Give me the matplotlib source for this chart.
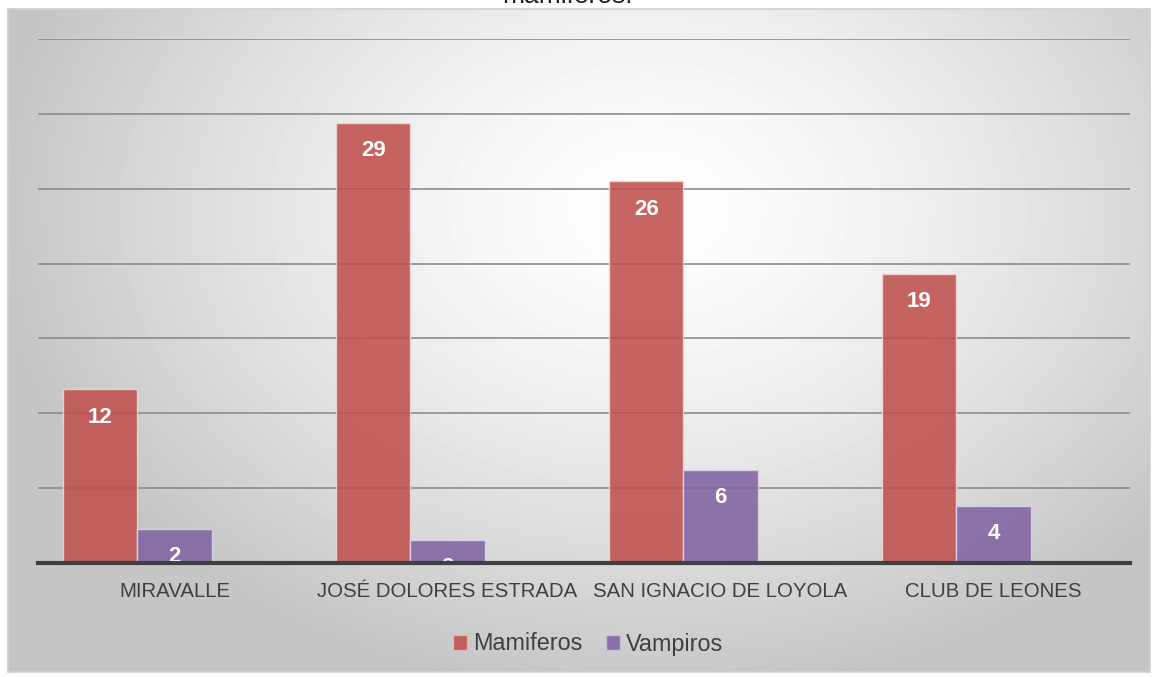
import numpy as np
import matplotlib
matplotlib.use("Agg")
from matplotlib import pyplot as plt
from matplotlib.patches import Patch

# data (bar heights, labels are rounded values)
categories = ["MIRAVALLE", "JOSÉ DOLORES ESTRADA", "SAN IGNACIO DE LOYOLA", "CLUB DE LEONES"]
mamiferos = [11.6, 29.4, 25.5, 19.3]
vampiros = [2.3, 1.55, 6.2, 3.8]
series_names = ["Mamiferos", "Vampiros"]
title_text = "mamiferos."

W, H = 1153, 677
fig = plt.figure(figsize=(W / 100, H / 100), dpi=100)
plt.rcParams['font.family'] = ['Liberation Sans', 'DejaVu Sans']

# chart area background: radial grey-to-white gradient
bg = fig.add_axes([8 / W, 5 / H, 1142 / W, 663 / H], zorder=0)
yy, xx = np.mgrid[0:663, 0:1142]
dist = np.sqrt(((xx - 640) / 760.0) ** 2 + ((yy - 200) / 560.0) ** 2)
shade = np.clip(1.0 - 0.28 * dist ** 1.4, 0.77, 1.0)
bg.imshow(shade, cmap='gray', vmin=0, vmax=1, aspect='auto', interpolation='bilinear')
bg.set_xticks([])
bg.set_yticks([])
for s in bg.spines.values():
    s.set_color('#d0d0d0')
    s.set_linewidth(1.2)

# plot area
ax = fig.add_axes([38 / W, 114 / H, 1092 / W, 524 / H], zorder=1)
ax.patch.set_alpha(0)
x = np.arange(len(categories))
bw = 0.272

# the bars sit half a bar width left of the category centre in the original
b1 = ax.bar(x - bw, mamiferos, bw, color='#c0504d', alpha=0.88,
            edgecolor='#f0d8d8', linewidth=1, zorder=3)
b2 = ax.bar(x, vampiros, bw, color='#8064a2', alpha=0.88,
            edgecolor='#ddd4ea', linewidth=1, zorder=3)

# data labels, inside end of each bar (clipped by the plot area)
for bars, vals in [(b1, mamiferos), (b2, vampiros)]:
    for rect, v in zip(bars, vals):
        ax.annotate(f"{v:.0f}", (rect.get_x() + rect.get_width() / 2, v),
                    xytext=(0, -20), textcoords='offset points',
                    ha='center', va='center', color='white', fontsize=16,
                    fontweight='bold', zorder=5, annotation_clip=False,
                    clip_on=True)

ax.set_xlim(-0.5, len(categories) - 0.5)
ax.set_ylim(0, 35)
ax.set_yticks(np.arange(0, 36, 5))
ax.yaxis.grid(True, color='#8c8c8c', linewidth=1.2, zorder=4)
ax.set_axisbelow(False)
ax.tick_params(axis='y', left=False, labelleft=False)
ax.tick_params(axis='x', length=0, pad=14, labelsize=14.7, labelcolor='#404040')
ax.set_xticks(x)
ax.set_xticklabels(categories)
for side in ['top', 'right', 'left']:
    ax.spines[side].set_visible(False)
ax.spines['bottom'].set_color('#404040')
ax.spines['bottom'].set_linewidth(3)
ax.spines['bottom'].set_zorder(6)

handles = [Patch(facecolor='#c0504d', alpha=0.88, edgecolor='#e8b8b8'),
           Patch(facecolor='#8064a2', alpha=0.88, edgecolor='#cfc2e0')]
fig.legend(handles, series_names, loc='center', bbox_to_anchor=(588 / W, 1 - 644 / H),
           ncol=2, frameon=False, fontsize=16.8, labelcolor='#404040',
           handlelength=0.6, handleheight=0.6, handletextpad=0.25, columnspacing=1.0)

fig.text(567 / W, 1 - 3 / H, title_text, ha='center', va='baseline',
         fontsize=19, color='#202020', zorder=10)

fig.savefig("out.png", dpi=100)
